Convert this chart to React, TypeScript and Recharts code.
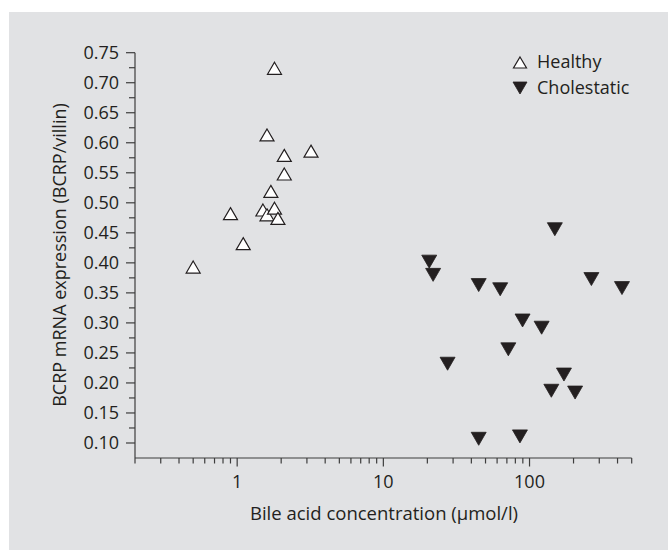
import React from "react";
import { ScatterChart, Scatter, XAxis, YAxis } from "recharts";

// bile acid concentration (µmol/l) and BCRP/villin ratio
const healthyConc = [0.5, 0.9, 1.1, 1.5, 1.6, 1.6, 1.7, 1.8, 1.8, 1.9, 2.1, 2.1, 3.2];
const healthyExpr = [0.393, 0.482, 0.432, 0.488, 0.48, 0.613, 0.519, 0.491, 0.724, 0.474, 0.548, 0.579, 0.586];

const cholestaticConc = [20.6, 21.9, 27.5, 44.9, 44.9, 63, 71.6, 86, 89.6, 121, 141, 149, 172, 205, 265, 429];
const cholestaticExpr = [0.402, 0.38, 0.232, 0.363, 0.107, 0.356, 0.256, 0.111, 0.304, 0.292, 0.187, 0.456, 0.214, 0.184, 0.373, 0.358];

const xMajorTicks = [1, 10, 100];
const xMinorTicks = [0.2, 0.3, 0.4, 0.5, 0.6, 0.7, 0.8, 0.9, 2, 3, 4, 5, 6, 7, 8, 9, 20, 30, 40, 50, 60, 70, 80, 90, 200, 300, 400, 500];
const yMajorTicks = [0.1, 0.15, 0.2, 0.25, 0.3, 0.35, 0.4, 0.45, 0.5, 0.55, 0.6, 0.65, 0.7, 0.75];
const yMinorTicks = [0.125, 0.175, 0.225, 0.275, 0.325, 0.375, 0.425, 0.475, 0.525, 0.575, 0.625, 0.675, 0.725];

const seriesNames = ["Healthy", "Cholestatic"];
const xTitle = "Bile acid concentration (µmol/l)";
const yTitle = "BCRP mRNA expression (BCRP/villin)";

const INK = "#231f20";
const AXIS = "#3d3d3d";
const BG = "#e1e2e4";
const FONT = "'Open Sans', sans-serif";

const healthy = healthyConc.map((x, i) => ({ x, y: healthyExpr[i] }));
const cholestatic = cholestaticConc.map((x, i) => ({ x, y: cholestaticExpr[i] }));
const xTicks = [...xMinorTicks, ...xMajorTicks].sort((a, b) => a - b);
const yTicks = [...yMinorTicks, ...yMajorTicks].sort((a, b) => a - b);

const upPath = (cx: number, cy: number, w: number, h: number) =>
  `M${cx},${cy - h}L${cx + w},${cy + h}L${cx - w},${cy + h}Z`;
const downPath = (cx: number, cy: number, w: number, h: number) =>
  `M${cx - w},${cy - h}L${cx + w},${cy - h}L${cx},${cy + h}Z`;

const UpTriangle = (props: any) => (
  <path d={upPath(props.cx, props.cy, 7, 6)} fill="#fff" stroke={INK} strokeWidth={1.2} />
);
const DownTriangle = (props: any) => (
  <path d={downPath(props.cx, props.cy, 7.5, 6.5)} fill={INK} stroke={INK} strokeWidth={0.8} />
);

const XTick = (props: any) => {
  const { x, y, payload } = props;
  const major = xMajorTicks.includes(payload.value);
  return (
    <g>
      <line x1={x} x2={x} y1={y} y2={y + (major ? 8.5 : 5.5)} stroke={AXIS} strokeWidth={1.2} />
      {major && (
        <text x={x} y={y + 29.7} textAnchor="middle" fontSize={18} fill={INK} fontFamily={FONT}>
          {payload.value}
        </text>
      )}
    </g>
  );
};

const YTick = (props: any) => {
  const { x, y, payload } = props;
  const major = yMajorTicks.includes(payload.value);
  return (
    <g>
      <line x1={x} x2={x - (major ? 9 : 6)} y1={y} y2={y} stroke={AXIS} strokeWidth={1.2} />
      {major && (
        <text x={x - 16} y={y + 6.4} textAnchor="end" fontSize={18} fill={INK} fontFamily={FONT}>
          {payload.value.toFixed(2)}
        </text>
      )}
    </g>
  );
};

export default function App() {
  return (
    <div style={{ position: "absolute", left: 0, top: 0, width: 668, height: 550, background: "#fff" }}>
      <div style={{ position: "absolute", left: 9, top: 12, width: 659, height: 538, background: BG }}>
        <ScatterChart width={659} height={538} margin={{ top: 40.7, right: 36.3, bottom: 0, left: 0 }}>
          <XAxis
            dataKey="x"
            type="number"
            scale="log"
            domain={[0.2, 500]}
            allowDataOverflow
            ticks={xTicks}
            interval={0}
            tickSize={0}
            tickMargin={0}
            tickLine={false}
            tick={XTick}
            axisLine={{ stroke: AXIS, strokeWidth: 1.2 }}
            height={92}
          />
          <YAxis
            dataKey="y"
            type="number"
            domain={[0.075, 0.75]}
            allowDataOverflow
            ticks={yTicks}
            interval={0}
            tickSize={0}
            tickMargin={0}
            tickLine={false}
            tick={YTick}
            axisLine={{ stroke: AXIS, strokeWidth: 1.2 }}
            width={126}
          />
          <Scatter name={seriesNames[0]} data={healthy} shape={UpTriangle} isAnimationActive={false} />
          <Scatter name={seriesNames[1]} data={cholestatic} shape={DownTriangle} isAnimationActive={false} />
        </ScatterChart>
        <svg
          width={659}
          height={538}
          style={{ position: "absolute", left: 0, top: 0, pointerEvents: "none" }}
        >
          <text x={375} y={508} textAnchor="middle" fontSize={18.5} fill={INK} fontFamily={FONT}>
            {xTitle}
          </text>
          <text
            transform="translate(57,243) rotate(-90)"
            textAnchor="middle"
            fontSize={18}
            fill={INK}
            fontFamily={FONT}
          >
            {yTitle}
          </text>
          <path d={upPath(511, 50.5, 6.5, 5.5)} fill="#fff" stroke={INK} strokeWidth={1.2} />
          <text x={528} y={55.5} fontSize={18} fill={INK} fontFamily={FONT}>
            {seriesNames[0]}
          </text>
          <path d={downPath(511, 76, 7, 6)} fill={INK} stroke={INK} strokeWidth={0.8} />
          <text x={528} y={82} fontSize={18} fill={INK} fontFamily={FONT}>
            {seriesNames[1]}
          </text>
        </svg>
      </div>
    </div>
  );
}
